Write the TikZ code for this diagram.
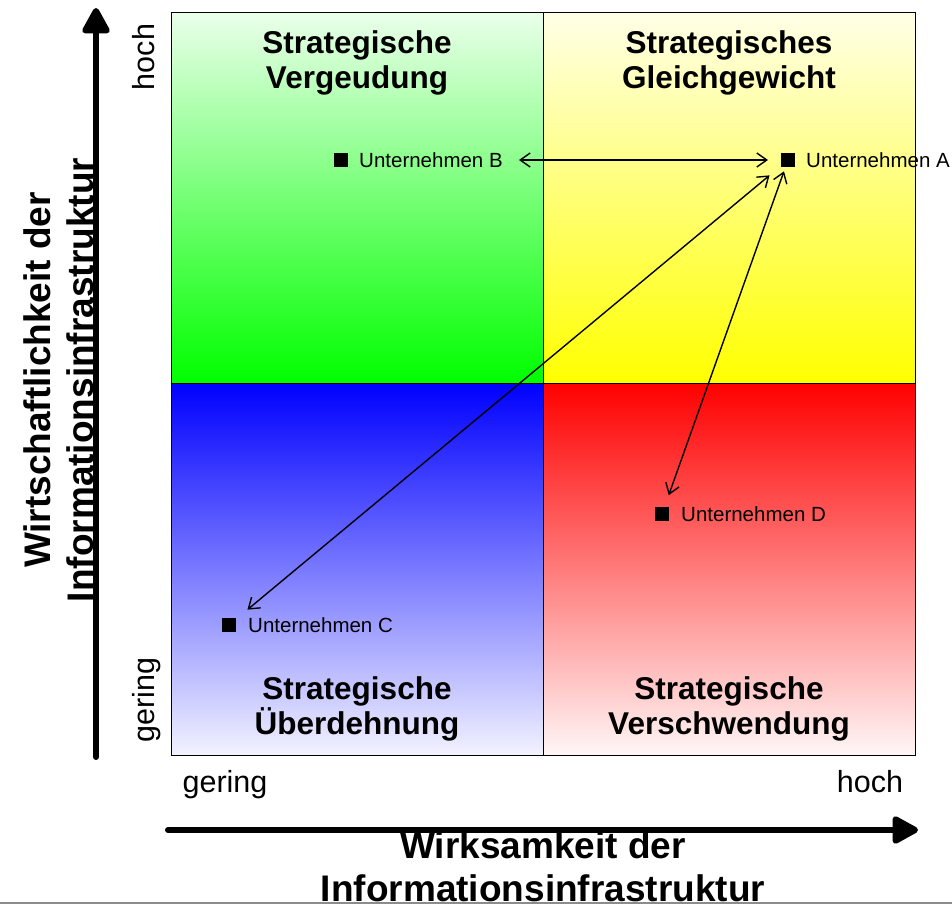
\documentclass[tikz,border=0pt]{standalone}
\usepackage{fontspec}
\setmainfont{Liberation Sans}
\usetikzlibrary{arrows.meta,positioning}
\definecolor{gtop}{RGB}{235,255,235}
\definecolor{gbot}{RGB}{0,255,0}
\definecolor{ytop}{RGB}{255,255,232}
\definecolor{ybot}{RGB}{255,255,0}
\definecolor{btop}{RGB}{0,0,255}
\definecolor{bbot}{RGB}{242,242,255}
\definecolor{rtop}{RGB}{255,0,0}
\definecolor{rbot}{RGB}{255,246,246}
\begin{document}
\begin{tikzpicture}[x=1pt,y=-1pt,
  quadtitle/.style={font=\fontsize{31.5}{35}\selectfont\bfseries, align=center, inner sep=0pt, anchor=north},
  axistitle/.style={font=\fontsize{37}{43}\selectfont\bfseries, align=center, inner sep=0pt, anchor=north},
  ticklabel/.style={font=\fontsize{30.5}{36}\selectfont, inner sep=0pt, anchor=base},
  firm/.style={fill=black, minimum size=14pt, inner sep=0pt, outer sep=0pt},
  firmlabel/.style={font=\fontsize{20.5}{24}\selectfont, inner sep=0pt, anchor=west},
  axisarrow/.style={line width=6pt, line cap=round, -{Triangle[length=29pt,width=30pt,round]}},
  move/.style={line width=1.4pt, {Straight Barb[length=10pt,width=14pt]}-{Straight Barb[length=10pt,width=14pt]}},
]
\useasboundingbox (0,0) rectangle (952,905);

% quadrant fills
\shade[top color=gtop, bottom color=gbot] (171,12) rectangle (543,383);
\shade[top color=ytop, bottom color=ybot] (543,12) rectangle (915,383);
\shade[top color=btop, bottom color=bbot] (171,383) rectangle (543,755);
\shade[top color=rtop, bottom color=rbot] (543,383) rectangle (915,755);

% quadrant titles
\node[quadtitle] (q1) at (357,30) {Strategische\\Vergeudung};
\node[quadtitle] (q2) at (729,30) {Strategisches\\Gleichgewicht};
\node[quadtitle] (q3) at (357,676) {Strategische\\Überdehnung};
\node[quadtitle] (q4) at (729,676) {Strategische\\Verschwendung};

% companies
\node[firm] (sqA) at (788,160) {};
\node[firmlabel, right=11pt of sqA] (labA) {Unternehmen A};
\node[firm] (sqB) at (341,160) {};
\node[firmlabel, right=11pt of sqB] (labB) {Unternehmen B};
\node[firm] (sqC) at (229,625) {};
\node[firmlabel, right=12pt of sqC] (labC) {Unternehmen C};
\node[firm] (sqD) at (662,514) {};
\node[firmlabel, right=12pt of sqD] (labD) {Unternehmen D};

% movements between positions
\draw[move, shorten <=16pt, shorten >=13pt] (labB.east) -- (sqA.west);
\draw[move, shorten <=24pt, shorten >=24pt] (sqA.center) -- (sqC.center);
\draw[move, shorten <=12pt, shorten >=20pt] (sqA.center) -- (sqD.center);

% frame and quadrant borders
\draw[line width=1pt] (171,12) rectangle (915,755);
\draw[line width=1pt] (543,12) -- (543,755);
\draw[line width=1pt] (171,383) -- (915,383);

% axes
\coordinate (yfrom) at (96,757);
\coordinate (yto) at (96,8);
\coordinate (xfrom) at (168,830);
\coordinate (xto) at (918,830);
\draw[axisarrow] (yfrom) -- (yto);
\draw[axisarrow] (xfrom) -- (xto);

% axis scale labels
\node[ticklabel, rotate=90] (yhi) at (154,57) {hoch};
\node[ticklabel, rotate=90] (ylo) at (154,700) {gering};
\node[ticklabel] (xlo) at (225,792) {gering};
\node[ticklabel] (xhi) at (870,792) {hoch};

% axis titles
\node[axistitle, rotate=90] (ytitle) at (23,380) {Wirtschaftlichkeit der\\Informationsinfrastruktur};
\node[axistitle] (xtitle) at (543,831) {Wirksamkeit der\\Informationsinfrastruktur};

% bottom rule
\draw[black!45, line width=2pt] (0,903) -- (952,903);
\end{tikzpicture}
\end{document}
